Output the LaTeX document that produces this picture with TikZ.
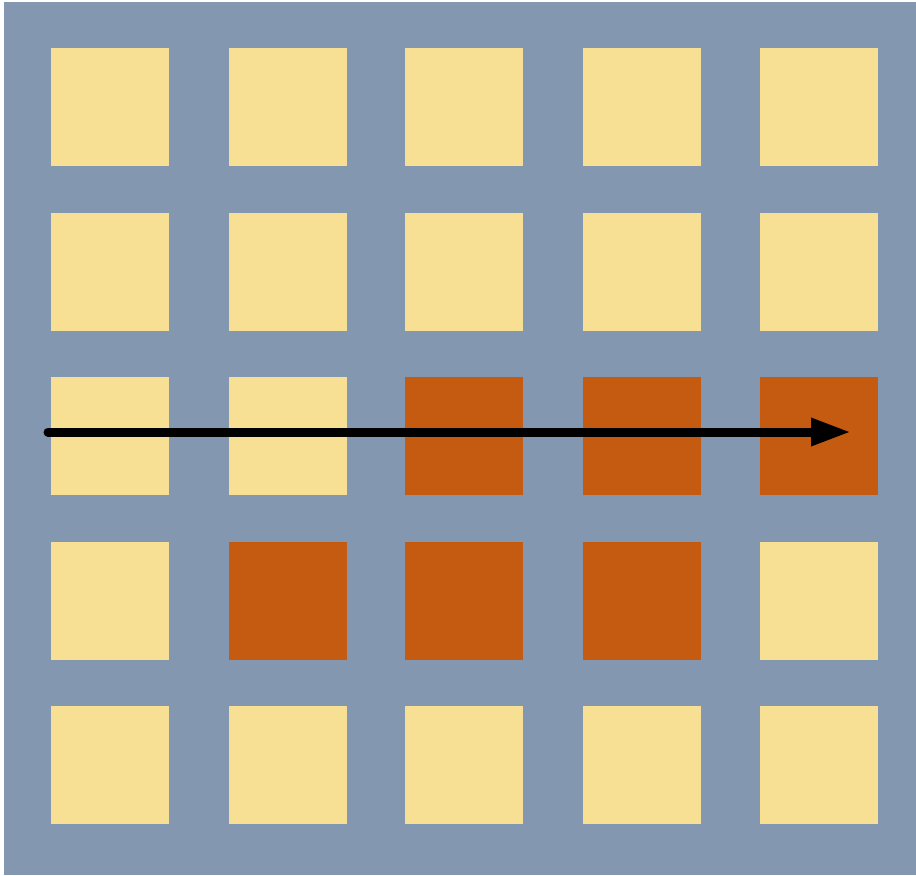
\documentclass[tikz,border=0pt]{standalone}
\usetikzlibrary{arrows.meta}
\definecolor{sfondo}{HTML}{8497B0}
\definecolor{giallo}{HTML}{F7DF94}
\definecolor{arancio}{HTML}{C55A11}
\begin{document}
\begin{tikzpicture}[x=0.5pt,y=-0.5pt,
    casella/.style={minimum size=59pt,inner sep=0pt,outer sep=0pt},
    freccia/.style={line width=4.5pt,line cap=round,-{Triangle[length=20pt,width=13pt]}}]
        \useasboundingbox (0,0) rectangle (916,875);
        %sfondo
        \fill[sfondo] (4,2) rectangle (916,875);
        %caselle
        \foreach \c/\x in {1/110,2/287.5,3/464,4/642,5/819}
            \foreach \r/\y in {1/106.5,2/271.5,3/435.5,4/600.5,5/764.5}{
                \pgfmathtruncatemacro{\acceso}{((\r==3)&&(\c>2)) || ((\r==4)&&(\c>1)&&(\c<5))}
                \ifnum\acceso=1 \def\colore{arancio}\else\def\colore{giallo}\fi
                \node[casella,fill=\colore] (c\r\c) at (\x,\y) {};
            }
        %freccia
        \coordinate (inizio) at (48,432);
        \coordinate (fine) at (851,432);
        \draw[freccia] (inizio) -- (fine);
    \end{tikzpicture}
\end{document}
